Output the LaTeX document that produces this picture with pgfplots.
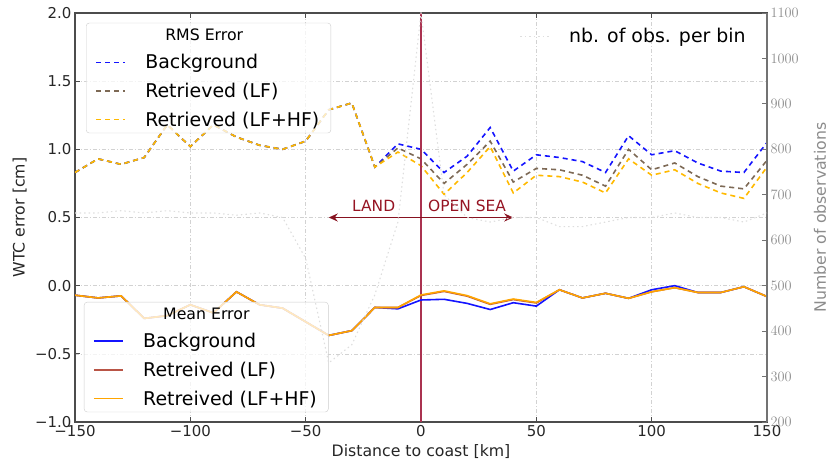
\documentclass[border=0pt]{standalone}
\usepackage{fontspec}
\setmainfont{DejaVu Sans}
\usepackage{pgfplots}
\usepackage{pgfplotstable}
\pgfplotsset{compat=1.18}
\usetikzlibrary{arrows.meta}

\definecolor{cB}{RGB}{20,20,255}
\definecolor{cLFd}{RGB}{125,105,85}
\definecolor{cHFd}{RGB}{255,185,0}
\definecolor{cLF}{RGB}{185,85,70}
\definecolor{cHF}{RGB}{255,165,0}
\definecolor{cRed}{RGB}{150,20,35}
\definecolor{cVert}{RGB}{170,50,80}
\definecolor{cObs}{RGB}{222,222,222}

\pgfplotstableread{
x b l h
-150 0.83 0.83 0.83
-140 0.93 0.93 0.93
-130 0.89 0.89 0.89
-120 0.94 0.94 0.94
-110 1.18 1.18 1.18
-100 1.02 1.02 1.02
-90 1.18 1.18 1.18
-80 1.09 1.09 1.09
-70 1.03 1.03 1.03
-60 1.00 1.00 1.00
-50 1.06 1.06 1.06
-40 1.29 1.29 1.29
-30 1.34 1.34 1.34
-20 0.87 0.87 0.87
-10 1.04 1.01 0.98
0 1.00 0.93 0.88
10 0.83 0.75 0.67
20 0.95 0.89 0.83
30 1.16 1.06 1.02
40 0.84 0.76 0.68
50 0.96 0.86 0.81
60 0.94 0.85 0.80
70 0.91 0.81 0.76
80 0.83 0.73 0.68
90 1.10 1.00 0.93
100 0.96 0.85 0.81
110 0.99 0.90 0.85
120 0.90 0.80 0.75
130 0.84 0.73 0.68
140 0.83 0.71 0.64
150 1.05 0.92 0.87
}\rmstab

\pgfplotstableread{
x b l h
-150 -0.07 -0.07 -0.07
-140 -0.09 -0.09 -0.09
-130 -0.075 -0.075 -0.075
-120 -0.24 -0.24 -0.24
-110 -0.22 -0.22 -0.22
-100 -0.14 -0.14 -0.14
-90 -0.20 -0.20 -0.20
-80 -0.045 -0.045 -0.045
-70 -0.14 -0.14 -0.14
-60 -0.165 -0.165 -0.165
-50 -0.265 -0.265 -0.265
-40 -0.365 -0.365 -0.365
-30 -0.33 -0.33 -0.33
-20 -0.16 -0.16 -0.16
-10 -0.17 -0.16 -0.16
0 -0.105 -0.072 -0.068
10 -0.10 -0.042 -0.038
20 -0.13 -0.077 -0.073
30 -0.175 -0.137 -0.133
40 -0.125 -0.102 -0.098
50 -0.15 -0.127 -0.123
60 -0.03 -0.03 -0.03
70 -0.09 -0.09 -0.09
80 -0.056 -0.056 -0.056
90 -0.093 -0.093 -0.093
100 -0.03 -0.045 -0.045
110 0.00 -0.015 -0.015
120 -0.05 -0.05 -0.05
130 -0.05 -0.05 -0.05
140 -0.008 -0.008 -0.008
150 -0.08 -0.08 -0.08
}\meantab

\pgfplotstableread{
x o
-150 660
-140 660
-130 665
-120 660
-110 665
-100 660
-90 660
-80 655
-70 660
-60 650
-50 560
-40 330
-30 370
-20 480
-10 640
0 1100
10 700
20 650
30 640
40 650
50 650
60 630
70 630
80 640
90 650
100 650
110 660
120 650
130 650
140 640
150 660
}\obstab

\pgfplotsset{
  common/.style={
    width=692bp, height=409bp, scale only axis,
    xmin=-150, xmax=150,
    clip=true,
  },
  leg/.style={
    legend cell align=left,
    legend style={
      draw=gray!40, rounded corners=3bp, fill=white, fill opacity=0.75, text opacity=1,
      font=\fontsize{19}{22}\selectfont,
      inner xsep=9bp, inner ysep=3bp,
      nodes={inner sep=2.4bp},
      row sep=8bp,
      /tikz/every odd column/.append style={column sep=17bp},
    },
    legend image code/.code={\draw[##1] (0bp,0bp) -- (29bp,0bp);},
  },
}

\begin{document}
\begin{tikzpicture}
% ---------------- main axis: RMS error
\begin{axis}[common, leg,
  name=main,
  ymin=-1, ymax=2,
  xtick={-150,-100,-50,0,50,100,150},
  xticklabels={−150,−100,−50,0,50,100,150},
  ytick={-1,-0.5,0,0.5,1,1.5,2},
  yticklabels={−1.0,−0.5,0.0,0.5,1.0,1.5,2.0},
  ytick pos=left,
  tick align=inside, major tick length=5bp,
  grid=major,
  grid style={dash pattern=on 4bp off 2bp on 1bp off 2bp, gray!35, line width=0.6bp},
  axis line style={black!70, line width=1.1bp},
  tick style={black!70, line width=0.9bp},
  ticklabel style={font=\fontsize{15}{18}\selectfont, text=black!85},
  xlabel={Distance to coast [km]},
  ylabel={WTC error [cm]},
  label style={font=\fontsize{15.8}{18}\selectfont, text=black!85},
  xlabel style={at={(axis description cs:0.5,-0.073)}, anchor=center},
  ylabel style={at={(axis description cs:-0.08,0.5)}, anchor=center},
  legend style={at={(0.016,0.976)}, anchor=north west},
]
\addlegendimage{empty legend}
\addlegendentry{\fontsize{15.8}{18}\selectfont\hspace*{20bp}RMS Error}
\addplot[cB, line width=1.6bp, dash pattern=on 5bp off 4bp] table[x=x,y=b]{\rmstab};
\addlegendentry{Background}
\addplot[cLFd, line width=1.6bp, dash pattern=on 5bp off 4bp] table[x=x,y=l]{\rmstab};
\addlegendentry{Retrieved (LF)}
\addplot[cHFd, line width=1.6bp, dash pattern=on 5bp off 4bp] table[x=x,y=h]{\rmstab};
\addlegendentry{Retrieved (LF+HF)}
\addplot[cVert, line width=1.4bp, forget plot] coordinates {(0,-1) (0,2)};
\draw[cRed!90!black, line width=1.4bp, {Stealth[length=9bp,width=8bp]}-{Stealth[length=9bp,width=8bp]}]
  (axis cs:-40,0.5) -- (axis cs:40,0.5);
\node[anchor=base, text=cRed, font=\fontsize{15.5}{18}\selectfont] at (axis cs:-20.5,0.547) {LAND};
\node[anchor=base, text=cRed, font=\fontsize{15.5}{18}\selectfont] at (axis cs:20,0.547) {OPEN SEA};
\end{axis}

% ---------------- mean error axis
\begin{axis}[common, leg,
  hide axis,
  ymin=-1, ymax=2,
  legend style={at={(0.013,0.024)}, anchor=south west},
]
\addlegendimage{empty legend}
\addlegendentry{\fontsize{15.8}{18}\selectfont\hspace*{20bp}Mean Error}
\addplot[cB, line width=1.6bp] table[x=x,y=b]{\meantab};
\addlegendentry{Background}
\addplot[cLF, line width=1.6bp] table[x=x,y=l]{\meantab};
\addlegendentry{Retreived (LF)}
\addplot[cHF, line width=1.6bp] table[x=x,y=h]{\meantab};
\addlegendentry{Retreived (LF+HF)}
\end{axis}

% ---------------- observations axis
\begin{axis}[common, leg,
  axis x line=none,
  axis y line*=right,
  ymin=200, ymax=1100,
  ytick={200,300,...,1100},
  /pgf/number format/1000 sep={},
  tick align=inside, major tick length=5bp,
  axis line style={black!55, line width=1.1bp},
  tick style={black!55, line width=0.9bp},
  yticklabel style={font=\fontsize{15}{18}\selectfont, text=black!45},
  ylabel={Number of observations},
  ylabel style={font=\fontsize{15.8}{18}\selectfont, text=black!45, at={(axis description cs:1.0766,0.5)}, anchor=center, rotate=0},
  legend style={at={(0.986,0.976)}, anchor=north east, draw=none, fill=none},
]
\addplot[cObs, line width=1.1bp, dash pattern=on 1.5bp off 3bp] table[x=x,y=o]{\obstab};
\addlegendentry{nb. of obs. per bin}
\coordinate (bbsw) at (rel axis cs:0,0);
\coordinate (bbne) at (rel axis cs:1,1);
\end{axis}
\pgfresetboundingbox
\path ([shift={(-75bp,-44bp)}]bbsw) rectangle ([shift={(62bp,13bp)}]bbne);
\end{tikzpicture}
\end{document}
